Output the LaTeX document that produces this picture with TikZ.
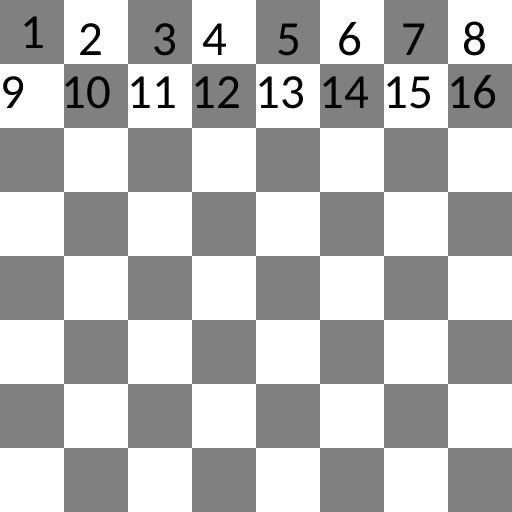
\documentclass[tikz,border=0pt]{standalone}
\usepackage{fontspec}
\setmainfont{Carlito}
\definecolor{sq}{RGB}{128,128,128}
\begin{document}
\begin{tikzpicture}[x=1pt,y=-1pt,
  num/.style={anchor=base,inner sep=0pt,outer sep=0pt,font=\fontsize{49}{49}\selectfont,text=black}]
\useasboundingbox (0,0) rectangle (512,512);
\fill[white] (0,0) rectangle (512,512);
\foreach \r in {0,...,7}{
  \foreach \c in {0,...,7}{
    \pgfmathtruncatemacro{\p}{mod(\r+\c,2)}
    \ifnum\p=0 \fill[sq] (\c*64,\r*64) rectangle ++(64,64);\fi
  }
}
\node[num] (n1) at (32.5,48) {1};
\node[num] (n2) at (91,55) {2};
\node[num] (n3) at (164.5,55) {3};
\node[num] (n4) at (214.5,55) {4};
\node[num] (n5) at (289,55) {5};
\node[num] (n6) at (350,55) {6};
\node[num] (n7) at (413.5,55) {7};
\node[num] (n8) at (474.5,55) {8};
\node[num] (n9) at (13,108) {9};
\node[num] (n10) at (86.5,108) {10};
\node[num] (n11) at (152.5,108) {11};
\node[num] (n12) at (216,108) {12};
\node[num] (n13) at (280.5,108) {13};
\node[num] (n14) at (344.5,108) {14};
\node[num] (n15) at (408.5,108) {15};
\node[num] (n16) at (472.5,108) {16};
\end{tikzpicture}
\end{document}
